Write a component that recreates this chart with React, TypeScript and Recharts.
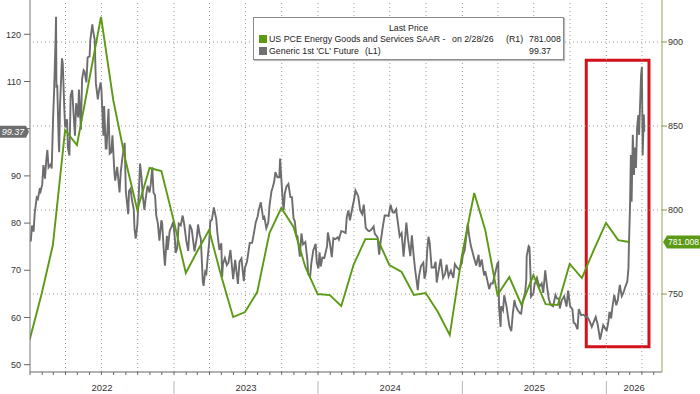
import React from 'react';
import { LineChart, Line, XAxis, YAxis, ReferenceLine, ReferenceArea } from 'recharts';

// ---------- DATA ----------
const pceDates = [
  '2021-12-31','2022-01-31','2022-02-28','2022-03-31','2022-04-30','2022-05-31','2022-06-30','2022-07-31','2022-08-31','2022-09-30','2022-10-31','2022-11-30','2022-12-31',
  '2023-01-31','2023-02-28','2023-03-31','2023-04-30','2023-05-31','2023-06-30','2023-07-31','2023-08-31','2023-09-30','2023-10-31','2023-11-30','2023-12-31',
  '2024-01-31','2024-02-29','2024-03-31','2024-04-30','2024-05-31','2024-06-30','2024-07-31','2024-08-31','2024-09-30','2024-10-31','2024-11-30','2024-12-31',
  '2025-01-31','2025-02-28','2025-03-31','2025-04-30','2025-05-31','2025-06-30','2025-07-31','2025-08-31','2025-09-30','2025-10-31','2025-11-30','2025-12-31',
  '2026-01-31','2026-02-28',
];
const pceValues = [
  722.6, 750.6, 779.2, 847.6, 838.7, 877.4, 914.9, 865.5, 829.8, 800.0, 825.0, 823.2, 794.0,
  762.5, 775.0, 788.1, 761.3, 736.3, 739.3, 751.2, 786.3, 801.2, 789.9, 766.1, 750.0,
  749.4, 742.9, 767.3, 782.7, 782.7, 767.3, 763.1, 749.4, 750.6, 739.3, 725.6, 773.2,
  810.1, 788.1, 749.4, 760.1, 743.5, 761.3, 744.0, 743.5, 767.9, 759.5, 776.2, 792.3,
  782.1, 781.008,
];

const oil2022: [string, number][] = [
  ['2022-01-03',76.1],['2022-01-06',79.5],['2022-01-10',78.2],['2022-01-13',82.1],['2022-01-18',85.4],['2022-01-21',85.1],['2022-01-26',87.4],['2022-01-28',86.8],
  ['2022-02-01',88.2],['2022-02-04',92.3],['2022-02-08',89.4],['2022-02-11',93.1],['2022-02-14',95.5],['2022-02-17',91.8],['2022-02-22',92.4],['2022-02-25',91.6],
  ['2022-03-01',103.4],['2022-03-03',107.7],['2022-03-07',119.4],['2022-03-08',123.7],['2022-03-09',108.7],['2022-03-11',109.3],['2022-03-15',96.4],['2022-03-16',95.0],
  ['2022-03-18',104.7],['2022-03-23',114.9],['2022-03-25',113.9],['2022-03-29',104.2],['2022-03-31',100.3],['2022-04-05',102.0],['2022-04-07',96.0],['2022-04-11',94.3],
  ['2022-04-14',106.9],['2022-04-18',108.2],['2022-04-21',103.8],['2022-04-25',98.5],['2022-04-28',105.4],['2022-05-03',102.4],['2022-05-05',108.3],['2022-05-10',99.8],
  ['2022-05-13',110.5],['2022-05-17',112.4],['2022-05-19',112.2],['2022-05-24',109.8],['2022-05-27',115.1],['2022-06-01',115.3],['2022-06-03',118.9],['2022-06-08',122.1],
  ['2022-06-10',120.7],['2022-06-14',118.9],['2022-06-17',109.6],['2022-06-22',106.2],['2022-06-24',107.6],['2022-06-29',109.8],['2022-07-01',108.4],['2022-07-06',98.5],
  ['2022-07-08',104.8],['2022-07-12',95.8],['2022-07-14',95.8],['2022-07-19',104.2],['2022-07-22',94.7],['2022-07-26',95.0],['2022-07-29',98.6],['2022-08-03',90.7],
  ['2022-08-05',89.0],['2022-08-10',91.9],['2022-08-16',86.5],['2022-08-19',90.8],['2022-08-23',93.7],['2022-08-29',97.0],['2022-09-01',86.6],['2022-09-07',81.9],
  ['2022-09-09',86.8],['2022-09-13',87.3],['2022-09-16',85.1],['2022-09-21',82.9],['2022-09-23',78.7],['2022-09-26',76.7],['2022-09-30',79.5],['2022-10-04',86.5],
  ['2022-10-07',92.6],['2022-10-11',89.4],['2022-10-14',85.6],['2022-10-18',82.8],['2022-10-21',85.1],['2022-10-26',87.9],['2022-10-31',86.5],['2022-11-03',88.2],
  ['2022-11-07',91.8],['2022-11-10',86.5],['2022-11-14',85.9],['2022-11-17',81.6],['2022-11-21',80.0],['2022-11-25',76.3],['2022-11-30',80.6],['2022-12-02',80.0],
  ['2022-12-06',74.3],['2022-12-09',71.0],['2022-12-14',77.3],['2022-12-16',74.3],['2022-12-21',78.3],['2022-12-27',79.5],['2022-12-30',80.3],
];
const oil2023: [string, number][] = [
  ['2023-01-03',76.9],['2023-01-05',73.7],['2023-01-09',74.6],['2023-01-13',79.9],['2023-01-18',79.5],['2023-01-23',81.6],['2023-01-27',79.7],['2023-02-01',76.4],
  ['2023-02-06',74.1],['2023-02-10',79.7],['2023-02-15',78.6],['2023-02-22',74.0],['2023-02-28',77.1],['2023-03-03',79.7],['2023-03-07',77.6],['2023-03-10',76.7],
  ['2023-03-15',67.6],['2023-03-17',66.7],['2023-03-21',69.7],['2023-03-24',69.3],['2023-03-28',73.2],['2023-03-31',75.7],['2023-04-03',80.4],['2023-04-07',80.7],
  ['2023-04-12',83.3],['2023-04-18',80.9],['2023-04-21',77.9],['2023-04-26',74.3],['2023-05-01',75.7],['2023-05-03',68.6],['2023-05-05',71.3],['2023-05-10',72.6],
  ['2023-05-15',71.1],['2023-05-19',71.6],['2023-05-24',74.3],['2023-05-31',68.1],['2023-06-05',72.2],['2023-06-12',67.1],['2023-06-16',71.8],['2023-06-21',72.5],
  ['2023-06-27',67.7],['2023-06-30',70.6],['2023-07-05',71.8],['2023-07-12',75.8],['2023-07-18',75.8],['2023-07-21',77.1],['2023-07-27',80.1],['2023-08-01',81.4],
  ['2023-08-04',82.8],['2023-08-09',84.4],['2023-08-15',81.0],['2023-08-18',81.3],['2023-08-23',78.9],['2023-08-28',80.1],['2023-08-31',83.6],['2023-09-05',86.7],
  ['2023-09-08',87.5],['2023-09-12',88.8],['2023-09-15',90.8],['2023-09-20',89.7],['2023-09-25',89.7],['2023-09-27',93.7],['2023-09-29',90.8],['2023-10-04',84.2],
  ['2023-10-06',82.8],['2023-10-09',86.4],['2023-10-13',87.7],['2023-10-18',88.3],['2023-10-23',85.5],['2023-10-27',85.5],['2023-10-31',81.0],['2023-11-03',80.5],
  ['2023-11-07',77.4],['2023-11-10',77.2],['2023-11-16',72.9],['2023-11-20',77.8],['2023-11-24',75.5],['2023-11-30',76.0],['2023-12-05',72.3],['2023-12-07',69.3],
  ['2023-12-12',68.6],['2023-12-15',71.4],['2023-12-20',74.2],['2023-12-26',75.6],['2023-12-29',71.7],
];
const oil2024: [string, number][] = [
  ['2024-01-02',70.4],['2024-01-05',73.8],['2024-01-08',70.8],['2024-01-12',72.7],['2024-01-17',72.6],['2024-01-24',75.1],['2024-01-26',78.0],['2024-01-31',75.9],
  ['2024-02-05',72.8],['2024-02-09',76.8],['2024-02-14',76.6],['2024-02-20',77.0],['2024-02-23',76.5],['2024-02-29',78.3],['2024-03-05',78.2],['2024-03-11',77.9],
  ['2024-03-14',81.3],['2024-03-18',82.7],['2024-03-22',80.6],['2024-03-28',83.2],['2024-04-02',85.2],['2024-04-05',86.9],['2024-04-12',85.7],['2024-04-17',82.7],
  ['2024-04-22',81.9],['2024-04-26',83.9],['2024-05-01',79.0],['2024-05-07',78.4],['2024-05-10',78.3],['2024-05-15',78.6],['2024-05-21',79.3],['2024-05-24',77.7],
  ['2024-05-31',77.0],['2024-06-04',73.3],['2024-06-07',75.5],['2024-06-12',78.5],['2024-06-18',81.6],['2024-06-24',81.6],['2024-06-28',81.5],['2024-07-03',83.9],
  ['2024-07-08',82.3],['2024-07-12',82.2],['2024-07-17',82.9],['2024-07-22',79.8],['2024-07-26',77.2],['2024-07-31',77.9],['2024-08-05',72.9],['2024-08-12',80.1],
  ['2024-08-16',76.7],['2024-08-22',73.0],['2024-08-26',77.4],['2024-08-30',73.6],['2024-09-03',70.3],['2024-09-10',65.8],['2024-09-13',68.7],['2024-09-18',70.9],
  ['2024-09-24',71.6],['2024-09-27',68.2],['2024-10-01',69.8],['2024-10-04',74.4],['2024-10-07',77.1],['2024-10-10',75.9],['2024-10-15',70.6],['2024-10-21',70.6],
  ['2024-10-25',71.8],['2024-10-28',67.4],['2024-11-01',69.5],['2024-11-07',72.4],['2024-11-13',68.4],['2024-11-18',69.2],['2024-11-22',71.2],['2024-11-27',68.7],
  ['2024-12-03',69.9],['2024-12-09',68.4],['2024-12-13',71.3],['2024-12-18',70.6],['2024-12-24',70.1],['2024-12-31',71.7],
];
const oil2025: [string, number][] = [
  ['2025-01-02',73.1],['2025-01-07',74.3],['2025-01-10',76.6],['2025-01-15',80.0],['2025-01-17',77.9],['2025-01-22',75.4],['2025-01-24',74.7],['2025-01-31',72.5],
  ['2025-02-05',71.0],['2025-02-11',73.3],['2025-02-14',70.7],['2025-02-19',72.3],['2025-02-25',68.9],['2025-02-28',69.8],['2025-03-04',68.3],['2025-03-10',66.0],
  ['2025-03-14',67.2],['2025-03-19',67.2],['2025-03-26',69.7],['2025-03-31',71.5],['2025-04-02',71.7],['2025-04-04',62.0],['2025-04-08',58.0],['2025-04-09',62.4],
  ['2025-04-14',61.5],['2025-04-17',64.7],['2025-04-23',62.3],['2025-04-30',58.2],['2025-05-05',57.1],['2025-05-09',61.0],['2025-05-13',63.7],['2025-05-16',62.5],
  ['2025-05-21',61.6],['2025-05-27',60.9],['2025-05-30',60.8],['2025-06-03',63.4],['2025-06-09',65.3],['2025-06-12',68.0],['2025-06-13',73.0],['2025-06-18',75.1],
  ['2025-06-20',74.9],['2025-06-23',68.5],['2025-06-24',64.4],['2025-06-30',65.1],['2025-07-03',67.0],['2025-07-09',68.4],['2025-07-15',66.5],['2025-07-21',67.2],
  ['2025-07-25',65.2],['2025-07-30',70.0],['2025-08-04',66.3],['2025-08-08',63.9],['2025-08-13',62.7],['2025-08-19',62.4],['2025-08-25',64.8],['2025-08-29',64.0],
  ['2025-09-03',64.0],['2025-09-05',61.9],['2025-09-10',63.7],['2025-09-16',64.5],['2025-09-22',62.3],['2025-09-26',65.7],['2025-10-01',62.4],['2025-10-07',61.7],
  ['2025-10-10',58.9],['2025-10-14',58.7],['2025-10-20',57.5],['2025-10-23',61.8],['2025-10-29',60.5],['2025-11-04',60.6],['2025-11-10',60.1],['2025-11-14',60.1],
  ['2025-11-20',59.1],['2025-11-25',58.0],['2025-12-01',59.3],['2025-12-05',60.1],['2025-12-10',58.5],['2025-12-16',55.3],['2025-12-19',56.5],['2025-12-24',58.4],
  ['2025-12-31',57.4],
];
const oil2026: [string, number][] = [
  ['2026-01-02',57.3],['2026-01-06',59.1],['2026-01-09',61.2],['2026-01-13',59.8],['2026-01-16',62.0],['2026-01-21',64.8],['2026-01-26',62.6],['2026-01-30',63.7],
  ['2026-02-04',66.9],['2026-02-09',64.5],['2026-02-13',65.2],['2026-02-18',66.5],['2026-02-23',67.6],['2026-02-26',70.5],['2026-02-27',74.7],['2026-03-02',83.8],
  ['2026-03-04',94.4],['2026-03-06',84.5],['2026-03-09',98.7],['2026-03-12',90.2],['2026-03-14',96.0],['2026-03-17',91.7],['2026-03-20',100.5],['2026-03-23',102.9],
  ['2026-03-25',98.7],['2026-03-27',104.0],['2026-03-30',111.4],['2026-04-01',113.1],['2026-04-02',104.0],['2026-04-03',94.4],['2026-04-06',103.0],['2026-04-07',99.37],
];

const leftTicks = [50, 60, 70, 80, 90, 100, 110, 120];
const leftTickLabels = ['50', '60', '70', '80', '90', '', '110', '120'];
const rightTicks = [750, 800, 850, 900];
const yearLabels = ['2022', '2023', '2024', '2025', '2026'];

const lastOil = 99.37;
const lastPce = 781.008;

// highlight box (data space: dates and left-axis values)
const boxX = ['2025-11-11', '2026-04-19'];
const boxY = [53.8, 114.5];

// ---------- HELPERS ----------
const BASE = Date.UTC(2022, 0, 1);
const toDay = (s: string) =>
  (Date.UTC(+s.slice(0, 4), +s.slice(5, 7) - 1, +s.slice(8, 10)) - BASE) / 86400000;
const X_END = 1602;

const pceData = pceDates.map((d, i) => ({ d: toDay(d), v: pceValues[i] }));
const oilData = [...oil2022, ...oil2023, ...oil2024, ...oil2025, ...oil2026].map(([d, v]) => ({ d: toDay(d), v }));

const monthTicks: number[] = [];
const quarterTicks: number[] = [];
const yearStarts: number[] = [];
for (let y = 2022; y <= 2026; y++) {
  for (let m = 0; m < 12; m++) {
    const d = (Date.UTC(y, m, 1) - BASE) / 86400000;
    if (d > X_END) continue;
    monthTicks.push(d);
    if (m % 3 === 0 && d > 0) quarterTicks.push(d);
    if (m === 0 && d > 0) yearStarts.push(d);
  }
}
const yearMids = yearLabels.map((lab) => {
  const y = +lab;
  const s = Math.max(0, (Date.UTC(y, 0, 1) - BASE) / 86400000);
  const e = Math.min(X_END, (Date.UTC(y + 1, 0, 1) - BASE) / 86400000);
  return (s + e) / 2 + 0.01;
});
const allXTicks = [...monthTicks, ...yearMids];

const FONT = '"Liberation Sans", Arial, sans-serif';
const GREEN = '#5c9a16';
const GRAY = '#6d6d6f';
const GRID = '#9a9a9a';

const XTick = (props: any) => {
  const { x, y, payload } = props;
  const v = payload.value;
  const yi = yearMids.indexOf(v);
  if (yi >= 0) {
    return (
      <text x={x} y={y + 19} textAnchor="middle" fontSize={9.5} fontFamily={FONT} fill="#333">
        {yearLabels[yi]}
      </text>
    );
  }
  const isYear = yearStarts.indexOf(v) >= 0;
  return (
    <g>
      <line x1={x} x2={x} y1={y} y2={y + 3} stroke="#666" />
      {isYear && <line x1={x} x2={x} y1={y + 9} y2={y + 22} stroke="#b5b5b5" />}
    </g>
  );
};

const LeftBadge = (props: any) => {
  const vb = props.viewBox || {};
  const x0 = vb.x;
  const cy = vb.y;
  const pts = `${x0 - 30},${cy - 6} ${x0 - 4},${cy - 6} ${x0 - 1},${cy} ${x0 - 4},${cy + 6} ${x0 - 30},${cy + 6}`;
  return (
    <g>
      <polygon points={pts} fill="#6e6e70" />
      <text x={x0 - 17} y={cy + 3.3} textAnchor="middle" fontSize={9} fontStyle="italic" fontFamily={FONT} fill="#fff">
        {lastOil.toFixed(2)}
      </text>
    </g>
  );
};

const RightBadge = (props: any) => {
  const vb = props.viewBox || {};
  const x0 = vb.x + vb.width;
  const cy = vb.y;
  const pts = `${x0 + 1},${cy} ${x0 + 5},${cy - 6.5} ${x0 + 38},${cy - 6.5} ${x0 + 38},${cy + 6.5} ${x0 + 5},${cy + 6.5}`;
  return (
    <g>
      <polygon points={pts} fill={GREEN} />
      <text x={x0 + 21.5} y={cy + 3.2} textAnchor="middle" fontSize={8.6} fontFamily={FONT} fill="#fff">
        {lastPce.toFixed(3)}
      </text>
    </g>
  );
};

const Legend = () => {
  const base: React.CSSProperties = { position: 'absolute', whiteSpace: 'pre', fontFamily: FONT, fontSize: 8.8, color: '#222', lineHeight: '11px' };
  return (
    <div
      style={{
        position: 'absolute', left: 253, top: 17, width: 309, height: 41,
        background: '#fff', border: '1px solid #8a8a8a', boxShadow: '1px 1px 1px #bbb',
      }}
    >
      <span style={{ ...base, left: 0, width: 309, textAlign: 'center', top: 5 }}>Last Price</span>
      <span style={{ position: 'absolute', left: 5, top: 17, width: 8, height: 8, background: GREEN }} />
      <span style={{ ...base, left: 15, top: 16 }}>US PCE Energy Goods and Services SAAR -</span>
      <span style={{ ...base, left: 198, top: 16 }}>on 2/28/26</span>
      <span style={{ ...base, left: 252, top: 16 }}>(R1)</span>
      <span style={{ ...base, left: 275, top: 16 }}>{lastPce.toFixed(3)}</span>
      <span style={{ position: 'absolute', left: 5, top: 29, width: 8, height: 8, background: '#707072' }} />
      <span style={{ ...base, left: 15, top: 28 }}>Generic 1st 'CL' Future</span>
      <span style={{ ...base, left: 111, top: 28 }}>(L1)</span>
      <span style={{ ...base, left: 275, top: 28 }}>{lastOil.toFixed(2)}</span>
    </div>
  );
};

export default function App() {
  return (
    <div style={{ position: 'absolute', left: 0, top: 0, width: 700, height: 394, background: '#fff', overflow: 'hidden' }}>
      <LineChart width={700} height={394} margin={{ top: 0, right: 0, bottom: 0, left: 0 }}>
        <XAxis
          dataKey="d"
          type="number"
          domain={[0, X_END]}
          allowDataOverflow
          ticks={allXTicks}
          interval={0}
          tick={<XTick />}
          tickLine={false}
          tickSize={0}
          tickMargin={0}
          height={22}
          axisLine={{ stroke: '#666' }}
        />
        <YAxis
          yAxisId="L"
          orientation="left"
          type="number"
          domain={[48.45, 127.27]}
          allowDataOverflow
          ticks={leftTicks}
          interval={0}
          tickFormatter={(v: number) => leftTickLabels[leftTicks.indexOf(v)] ?? ''}
          width={30}
          tickSize={6}
          tickMargin={3}
          tick={{ fontSize: 9, fontFamily: FONT, fill: '#333' }}
          tickLine={{ stroke: '#666' }}
          axisLine={{ stroke: '#777' }}
        />
        <YAxis
          yAxisId="R"
          orientation="right"
          type="number"
          domain={[703.6, 925]}
          allowDataOverflow
          ticks={rightTicks}
          interval={0}
          width={38}
          tickSize={5}
          tickMargin={1}
          tick={{ fontSize: 9, fontFamily: FONT, fill: '#333' }}
          tickLine={{ stroke: '#8c9a48' }}
          axisLine={{ stroke: '#9aa45a' }}
        />
        {quarterTicks.map((q) => (
          <ReferenceLine key={'q' + q} x={q} yAxisId="L" stroke={GRID} strokeDasharray="1 3" />
        ))}
        {rightTicks.map((t) => (
          <ReferenceLine key={'h' + t} y={t} yAxisId="R" stroke={GRID} strokeDasharray="1 3" />
        ))}
        <Line data={oilData} yAxisId="L" dataKey="v" type="linear" stroke={GRAY} strokeWidth={1.9} dot={false} isAnimationActive={false} />
        <Line data={pceData} yAxisId="R" dataKey="v" type="linear" stroke={GREEN} strokeWidth={1.9} dot={false} isAnimationActive={false} />
        <ReferenceArea
          yAxisId="L"
          x1={toDay(boxX[0])}
          x2={toDay(boxX[1])}
          y1={boxY[0]}
          y2={boxY[1]}
          fill="none"
          fillOpacity={0}
          stroke="#d2121b"
          strokeWidth={3}
          ifOverflow="visible"
        />
        <ReferenceLine yAxisId="L" y={lastOil} stroke="none" ifOverflow="visible" label={(p: any) => <LeftBadge {...p} />} />
        <ReferenceLine yAxisId="R" y={lastPce} stroke="none" ifOverflow="visible" label={(p: any) => <RightBadge {...p} />} />
      </LineChart>
      <Legend />
    </div>
  );
}
